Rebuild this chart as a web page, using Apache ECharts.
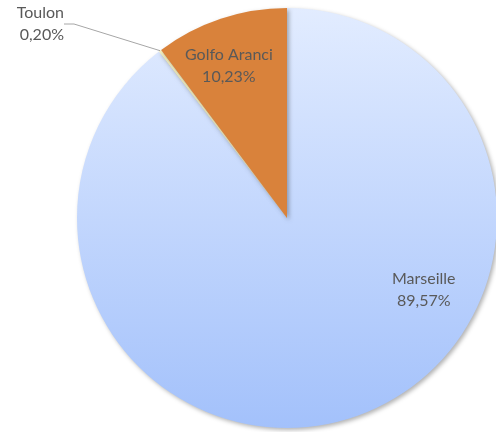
<!DOCTYPE html>
<html>
<head>
<meta charset="utf-8">
<script src="https://cdn.jsdelivr.net/npm/echarts@6/dist/echarts.min.js"></script>
<style>html,body{margin:0;padding:0;background:#fff}#c{width:496px;height:432px}</style>
</head>
<body>
<div id="c"></div>
<script>
const categories = ['Marseille', 'Toulon', 'Golfo Aranci'];
const shares = [89.57, 0.20, 10.23];
const colors = [
  {type:'linear', x:0, y:0, x2:0, y2:1, colorStops:[{offset:0, color:'#e2ecff'},{offset:1, color:'#a3c1fb'}]},
  '#f3efc0',
  '#d9823b'
];
const chart = echarts.init(document.getElementById('c'));
const fmt = v => v.toFixed(2).replace('.', ',') + '%';
chart.setOption({
  animation: false,
  series: [{
    type: 'pie',
    center: [287, 218],
    radius: 210,
    startAngle: 90,
    clockwise: true,
    avoidLabelOverlap: false,
    data: categories.map((n, i) => ({
      name: n, value: shares[i],
      itemStyle: {color: colors[i]},
      label: {position: i === 1 ? 'outside' : 'inside'},
      labelLine: {show: i === 1}
    })),
    itemStyle: {shadowBlur: 4, shadowOffsetX: 2, shadowOffsetY: 2, shadowColor: 'rgba(0,0,0,0.3)'},
    label: {
      formatter: p => p.name + '\n' + fmt(p.value),
      color: '#595959',
      fontFamily: 'Lato',
      fontSize: 16,
      lineHeight: 22,
      align: 'center'
    },
    labelLine: {lineStyle: {color: '#a6a6a6', width: 1}, length: 20, length2: 10},
    labelLayout: function (p) {
      if (p.dataIndex === 1) return {x: 64, y: 24, align: 'right', verticalAlign: 'middle'};
      if (p.dataIndex === 2) return {dx: -24, dy: -50};
      if (p.dataIndex === 0) return {dx: 102, dy: -30};
      return {};
    }
  }]
});
</script>
</body>
</html>
